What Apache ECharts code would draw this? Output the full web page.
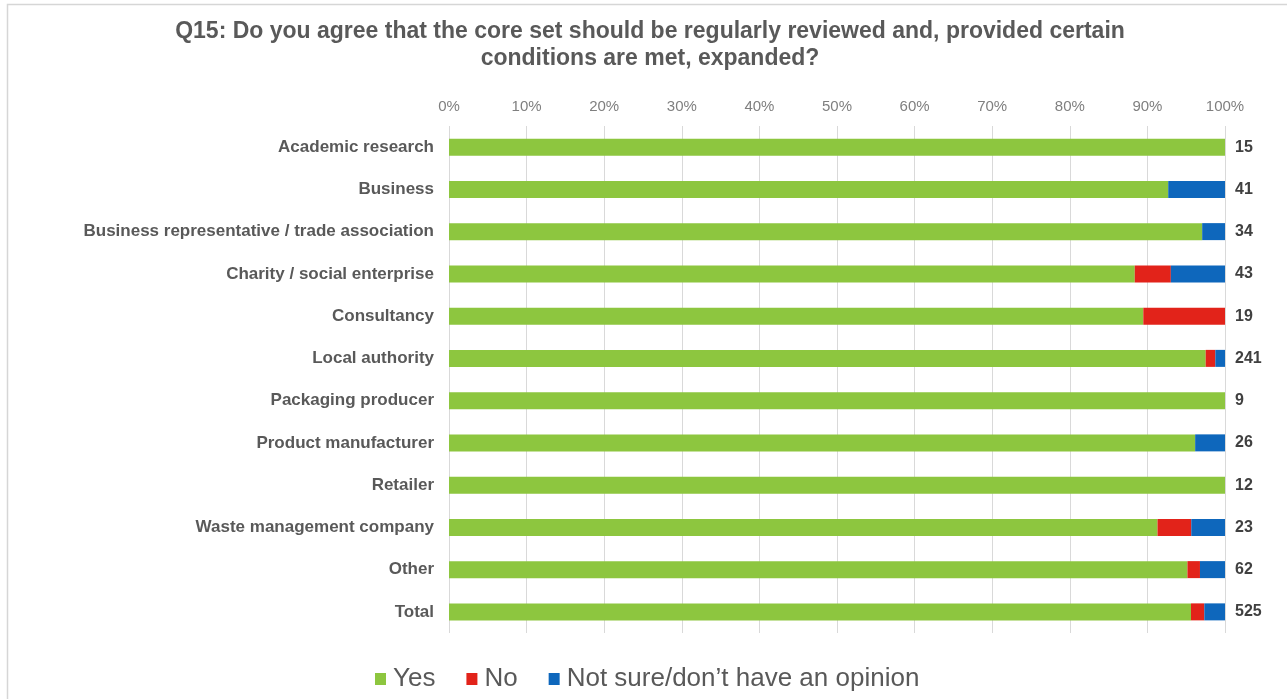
<!DOCTYPE html>
<html>
<head>
<meta charset="utf-8">
<title>Q15 responses</title>
<script src="https://cdn.jsdelivr.net/npm/echarts@6/dist/echarts.min.js"></script>
<style>
  html, body { margin: 0; padding: 0; background: #ffffff; }
  #chart { width: 1287px; height: 699px; }
</style>
</head>
<body>
<div id="chart"></div>
<script>
// Respondent groups, top to bottom
const categories = [
  'Academic research',
  'Business',
  'Business representative / trade association',
  'Charity / social enterprise',
  'Consultancy',
  'Local authority',
  'Packaging producer',
  'Product manufacturer',
  'Retailer',
  'Waste management company',
  'Other',
  'Total'
];

// Number of responses per answer
const yesCounts    = [15, 38, 33, 38, 17, 235, 9, 25, 12, 21, 59, 502];
const noCounts     = [0, 0, 0, 2, 2, 3, 0, 0, 0, 1, 1, 9];
const unsureCounts = [0, 3, 1, 3, 0, 3, 0, 1, 0, 1, 2, 14];

// Respondents per group (shown at the right of each bar)
const respondents  = [15, 41, 34, 43, 19, 241, 9, 26, 12, 23, 62, 525];

const percentTicks = [0, 100, 10]; // min, max, interval

const seriesNames = ['Yes', 'No', 'Not sure/don\u2019t have an opinion'];
const seriesColors = ['#8DC63F', '#E2231A', '#0E67BC'];

function share(counts) {
  return counts.map((c, i) => +(c / respondents[i] * 100).toFixed(3));
}

const FONT = 'Liberation Sans, Arial, sans-serif';

const chart = echarts.init(document.getElementById('chart'), null, { renderer: 'canvas' });

chart.setOption({
  backgroundColor: '#ffffff',
  animation: false,
  textStyle: { fontFamily: FONT },
  graphic: [
    {
      type: 'rect',
      silent: true,
      shape: { x: 7.5, y: 4.5, width: 1400, height: 800 },
      style: { fill: 'none', stroke: '#d6d6d6', lineWidth: 1.5 }
    },
    {
      type: 'text',
      silent: true,
      style: {
        x: 650,
        y: 18,
        text: 'Q15: Do you agree that the core set should be regularly reviewed and, provided certain\nconditions are met, expanded?',
        textAlign: 'center',
        textVerticalAlign: 'top',
        font: 'bold 23px ' + FONT,
        lineHeight: 27,
        fill: '#595959'
      }
    }
  ],
  legend: {
    data: seriesNames,
    left: 370,
    top: 661,
    icon: 'rect',
    itemWidth: 11,
    itemHeight: 12,
    itemGap: 31,
    textStyle: { fontSize: 26, color: '#595959', fontFamily: FONT, padding: [0, 0, 0, 2] }
  },
  grid: {
    left: 449,
    right: 62,
    top: 126,
    bottom: 66,
    containLabel: false
  },
  xAxis: {
    type: 'value',
    position: 'top',
    min: percentTicks[0],
    max: percentTicks[1],
    interval: percentTicks[2],
    axisLine: { show: false },
    axisTick: { show: false },
    splitLine: { show: true, lineStyle: { color: '#d9d9d9', width: 1 } },
    axisLabel: {
      formatter: '{value}%',
      color: '#7f7f7f',
      fontSize: 15,
      margin: 12,
      fontFamily: FONT
    }
  },
  yAxis: [
    {
      type: 'category',
      data: categories,
      inverse: true,
      axisLine: { show: false },
      axisTick: { show: false },
      axisLabel: {
        color: '#595959',
        fontSize: 17,
        fontWeight: 'bold',
        margin: 15,
        fontFamily: FONT
      }
    },
    {
      type: 'category',
      data: respondents.map(String),
      inverse: true,
      position: 'right',
      axisLine: { show: false },
      axisTick: { show: false },
      axisLabel: {
        color: '#404040',
        fontSize: 16,
        fontWeight: 'bold',
        margin: 10,
        fontFamily: FONT
      }
    }
  ],
  series: [yesCounts, noCounts, unsureCounts].map((counts, i) => ({
    name: seriesNames[i],
    type: 'bar',
    stack: 'share',
    yAxisIndex: 0,
    barWidth: 17,
    itemStyle: { color: seriesColors[i] },
    data: share(counts)
  }))
});
</script>
</body>
</html>
